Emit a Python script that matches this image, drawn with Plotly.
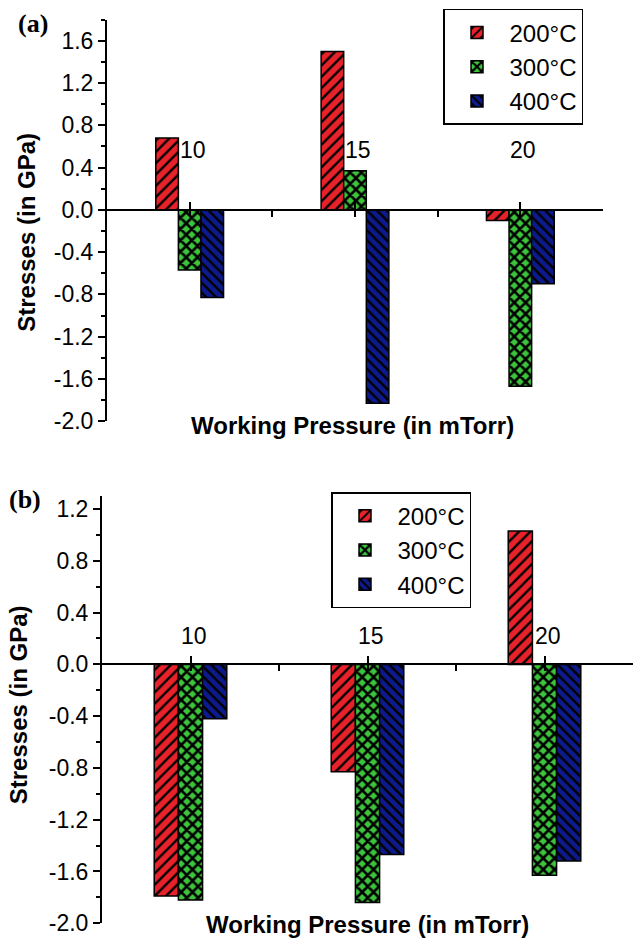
import plotly.graph_objects as go

# ---------------- data ----------------
pressures = [10, 15, 20]
temps = ["200°C", "300°C", "400°C"]

a_200 = [0.68, 1.50, -0.10]
a_300 = [-0.57, 0.37, -1.67]
a_400 = [-0.83, -1.83, -0.70]

b_200 = [-1.79, -0.83, 1.03]
b_300 = [-1.82, -1.84, -1.63]
b_400 = [-0.42, -1.47, -1.52]

a_yticks = [-2.0, -1.6, -1.2, -0.8, -0.4, 0.0, 0.4, 0.8, 1.2, 1.6]
b_yticks = [-2.0, -1.6, -1.2, -0.8, -0.4, 0.0, 0.4, 0.8, 1.2]

# ---------------- styles ----------------
FONT = "Liberation Sans, Arial, sans-serif"
colors = ["#e8222a", "#3cc43c", "#0c1a8e"]
shapes = ["/", "x", "\\"]
solids = [0.3, 0.55, 0.35]
psizes = [8, 8, 7]

fig = go.Figure()


def bar(vals, name, i, xa, ya, leg):
    return go.Bar(x=pressures, y=vals, name=name, xaxis=xa, yaxis=ya, legend=leg,
                  marker=dict(color=colors[i],
                              pattern=dict(shape=shapes[i], fgcolor="black", bgcolor=colors[i],
                                           size=psizes[i], solidity=solids[i], fillmode="replace"),
                              line=dict(color="black", width=1.5)))


for i, (vals, name) in enumerate(zip([a_200, a_300, a_400], temps)):
    fig.add_trace(bar(vals, name, i, "x", "y", "legend"))
for i, (vals, name) in enumerate(zip([b_200, b_300, b_400], temps)):
    fig.add_trace(bar(vals, name, i, "x2", "y2", "legend2"))

W, H = 637, 952
# panel geometry (pixels from top-left)
A = dict(x0=107, x1=603, ytop=20, ybot=427, yr=(-2.0, 1.8))
B = dict(x0=102, x1=633, ytop=503, ybot=936, yr=(-2.0, 1.3))


def dom(p):
    xd = [p["x0"] / W, p["x1"] / W]
    yd = [1 - p["ybot"] / H, 1 - p["ytop"] / H]
    lo, hi = p["yr"]
    zero_pos = yd[0] + (0 - lo) / (hi - lo) * (yd[1] - yd[0])
    return xd, yd, zero_pos


axA = dom(A)
axB = dom(B)


def xaxis_def(xd, ypos):
    return dict(domain=xd, range=[7.5, 22.5], anchor="free", position=ypos,
                showline=True, linecolor="black", linewidth=2, showgrid=False, zeroline=False,
                tickmode="linear", tick0=10, dtick=5, ticks="inside", ticklen=7, tickwidth=2,
                tickcolor="black", showticklabels=False,
                minor=dict(tick0=7.5, dtick=2.5, ticks="outside", ticklen=6, tickwidth=2,
                           tickcolor="black", showgrid=False))


def yaxis_def(yd, yr, ticks, anchor_x):
    return dict(domain=yd, range=list(yr), anchor=anchor_x, showline=True, linecolor="black",
                linewidth=2, showgrid=False, zeroline=False, tickmode="array", tickvals=ticks,
                ticktext=[f"{v:.1f}" for v in ticks], ticks="outside",
                ticklen=7, tickwidth=2, tickcolor="black",
                tickfont=dict(family=FONT, size=23, color="black"),
                minor=dict(dtick=0.2, tick0=0, ticks="outside", ticklen=4, tickwidth=1.5,
                           tickcolor="black", showgrid=False))


legend_common = dict(bgcolor="white", bordercolor="black", borderwidth=1.5,
                     font=dict(family=FONT, size=24, color="black"),
                     xanchor="left", yanchor="top", itemwidth=55, tracegroupgap=0)

annotations = []
# category labels floating above the zero line
for p in pressures:
    annotations.append(dict(x=p, y=0.57, xref="x", yref="y", text=str(p), showarrow=False,
                            xshift=3, font=dict(family=FONT, size=23, color="black")))
    annotations.append(dict(x=p, y=0.22, xref="x2", yref="y2", text=str(p), showarrow=False,
                            xshift=3, font=dict(family=FONT, size=23, color="black")))

title_font = dict(family=FONT, size=24, color="black")
serif = dict(family="Liberation Serif, Times New Roman, serif", size=26, color="black")
annotations += [
    dict(x=27 / W, y=1 - 236 / H, xref="paper", yref="paper", text="<b>Stresses (in GPa)</b>",
         textangle=-90, showarrow=False, font=title_font, xanchor="center", yanchor="middle"),
    dict(x=18 / W, y=1 - 715 / H, xref="paper", yref="paper", text="<b>Stresses (in GPa)</b>",
         textangle=-90, showarrow=False, font=title_font, xanchor="center", yanchor="middle"),
    dict(x=352 / W, y=1 - 431 / H, xref="paper", yref="paper", text="<b>Working Pressure (in mTorr)</b>",
         showarrow=False, font=title_font, xanchor="center", yanchor="middle"),
    dict(x=367 / W, y=1 - 937 / H, xref="paper", yref="paper", text="<b>Working Pressure (in mTorr)</b>",
         showarrow=False, font=title_font, xanchor="center", yanchor="middle"),
    dict(x=33 / W, y=1 - 24 / H, xref="paper", yref="paper", text="<b>(a)</b>", showarrow=False,
         font=serif, xanchor="center", yanchor="middle"),
    dict(x=25 / W, y=1 - 506 / H, xref="paper", yref="paper", text="<b>(b)</b>", showarrow=False,
         font=serif, xanchor="center", yanchor="middle"),
]

fig.update_layout(
    width=W, height=H, margin=dict(l=0, r=0, t=0, b=0),
    paper_bgcolor="white", plot_bgcolor="white",
    barmode="group", bargap=0.59, bargroupgap=0,
    font=dict(family=FONT, color="black"),
    xaxis=xaxis_def(axA[0], axA[2]), yaxis=yaxis_def(axA[1], A["yr"], a_yticks, "x"),
    xaxis2=xaxis_def(axB[0], axB[2]), yaxis2=yaxis_def(axB[1], B["yr"], b_yticks, "x2"),
    legend=dict(x=443 / W, y=1 - 9 / H, **legend_common),
    legend2=dict(x=331 / W, y=1 - 499 / H, **legend_common),
    annotations=annotations,
    showlegend=True,
)

fig.write_html("out.html")
